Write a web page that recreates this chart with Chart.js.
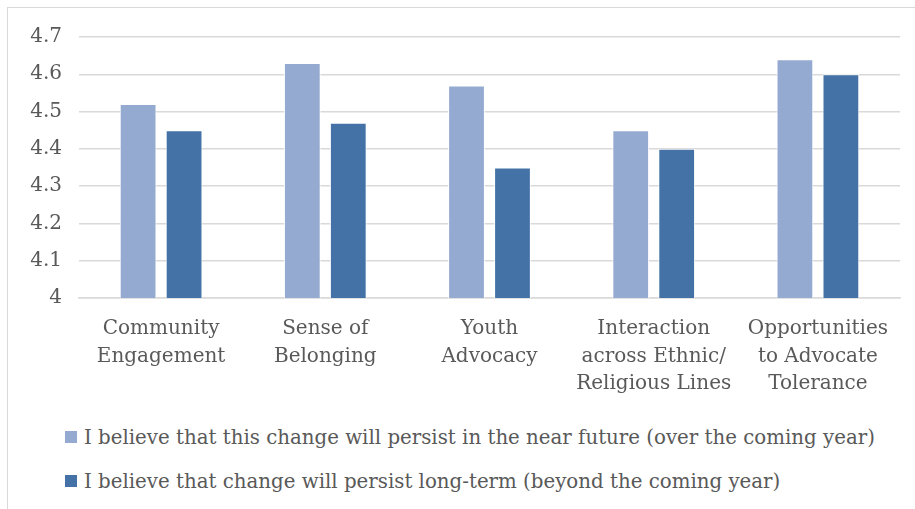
<!DOCTYPE html>
<html>
<head>
<meta charset="utf-8">
<script src="https://cdn.jsdelivr.net/npm/chart.js@4.4.1/dist/chart.umd.min.js"></script>
<style>
    html, body { margin: 0; padding: 0; background: #fff; overflow: hidden; }
    #frame {
        position: absolute; left: 7px; top: 7px; width: 940px; height: 540px;
        border: 1px solid #d9d9d9; box-sizing: border-box;
    }
    #wrap { position: absolute; left: 0; top: 0; width: 908px; height: 400px; }
    #legend {
        position: absolute; left: 57px; top: 407px;
        font-family: "DejaVu Serif", serif; font-size: 19.8px; color: #595959;
    }
    .item { height: 44px; display: flex; align-items: center; white-space: nowrap; }
    .swatch { width: 12px; height: 12px; margin-right: 7px; }
</style>
</head>
<body>
<div id="frame">
    <div id="wrap"><canvas id="persistChart"></canvas></div>
    <div id="legend"></div>
</div>
<script>
const categories = [
    ['Community', 'Engagement'],
    ['Sense of', 'Belonging'],
    ['Youth', 'Advocacy'],
    ['Interaction', 'across Ethnic/', 'Religious Lines'],
    ['Opportunities', 'to Advocate', 'Tolerance']
];
const nearFuture = [4.52, 4.63, 4.57, 4.45, 4.64];
const longTerm = [4.45, 4.47, 4.35, 4.40, 4.60];
const seriesNames = [
    'I believe that this change will persist in the near future (over the coming year)',
    'I believe that change will persist long-term (beyond the coming year)'
];
const seriesColors = ['#95aad1', '#4472a7'];
const yTickLabels = ['4', '4.1', '4.2', '4.3', '4.4', '4.5', '4.6', '4.7'];

const textColor = '#595959';
const gridColor = '#d9d9d9';
Chart.defaults.font.family = '"DejaVu Serif", serif';
Chart.defaults.color = textColor;

const ctx = document.getElementById('persistChart').getContext('2d');
const persistChart = new Chart(ctx, {
    type: 'bar',
    data: {
        labels: categories,
        datasets: [nearFuture, longTerm].map((vals, i) => ({
            label: seriesNames[i],
            data: vals,
            backgroundColor: seriesColors[i],
            borderColor: '#ffffff',
            borderWidth: 1,
            categoryPercentage: 0.56,
            barPercentage: 0.8
        }))
    },
    options: {
        responsive: true,
        maintainAspectRatio: false,
        animation: false,
        layout: { padding: { top: 21, right: 16, left: 0, bottom: 0 } },
        plugins: {
            legend: { display: false },
            tooltip: { enabled: false }
        },
        scales: {
            x: {
                grid: { display: false },
                border: { color: gridColor, width: 1.5 },
                ticks: {
                    font: { size: 20, lineHeight: 1.38 },
                    padding: 9,
                    maxRotation: 0,
                    autoSkip: false
                },
                afterFit: scale => { scale.height = 110; }
            },
            y: {
                min: 4,
                max: 4.7,
                ticks: {
                    stepSize: 0.1,
                    font: { size: 20 },
                    padding: 17,
                    callback: (v, i) => yTickLabels[i]
                },
                grid: { color: gridColor, lineWidth: 1.5, drawTicks: false },
                border: { display: false },
                afterFit: scale => { scale.width = 71; }
            }
        }
    }
});

// legend rows, left aligned under the plot
const legendBox = document.getElementById('legend');
seriesNames.forEach((name, i) => {
    const row = document.createElement('div');
    row.className = 'item';
    row.innerHTML = `<span class="swatch" style="background:${seriesColors[i]}"></span><span>${name}</span>`;
    legendBox.appendChild(row);
});
</script>
</body>
</html>
